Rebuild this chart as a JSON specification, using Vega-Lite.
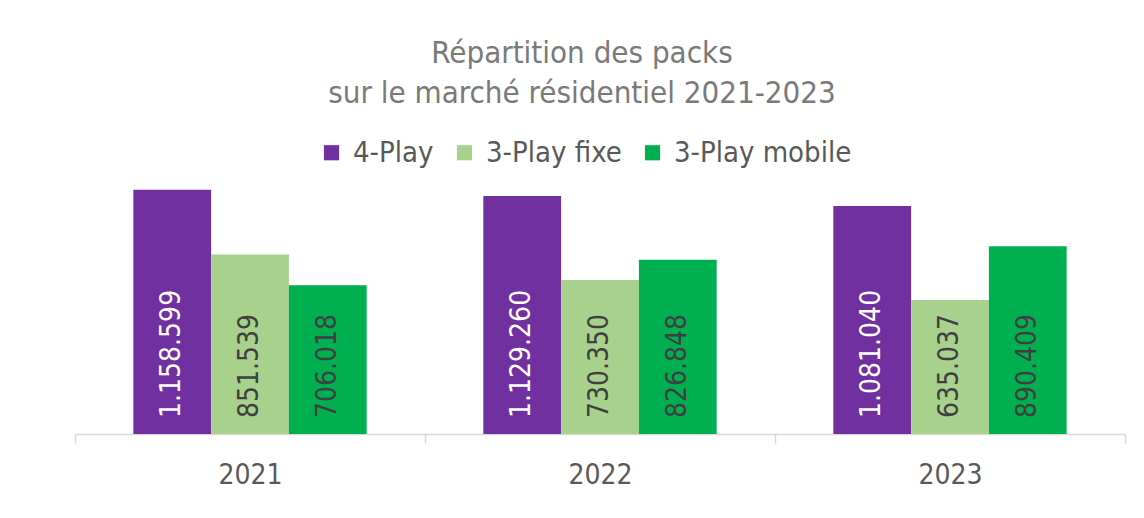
{
  "$schema": "https://vega.github.io/schema/vega-lite/v6.json",
  "autosize": "none",
  "width": 1050,
  "height": 253,
  "padding": {"left": 75, "top": 181, "right": 19, "bottom": 84},
  "background": "white",
  "config": {
    "locale": {"number": {"decimal": ",", "thousands": ".", "grouping": [3], "currency": ["", " €"]}},
    "view": {"stroke": null},
    "font": "DejaVu Sans Condensed"
  },
  "title": {
    "text": ["Répartition des packs", "sur le marché résidentiel 2021-2023"],
    "anchor": "middle",
    "dx": -18,
    "fontSize": 31,
    "font": "DejaVu Sans Condensed",
    "fontWeight": "normal",
    "color": "#7A7A7A",
    "lineHeight": 40,
    "offset": 28
  },
  "data": {
    "values": [
      {"year": "2021", "pack": "4-Play", "value": 1158599},
      {"year": "2021", "pack": "3-Play fixe", "value": 851539},
      {"year": "2021", "pack": "3-Play mobile", "value": 706018},
      {"year": "2022", "pack": "4-Play", "value": 1129260},
      {"year": "2022", "pack": "3-Play fixe", "value": 730350},
      {"year": "2022", "pack": "3-Play mobile", "value": 826848},
      {"year": "2023", "pack": "4-Play", "value": 1081040},
      {"year": "2023", "pack": "3-Play fixe", "value": 635037},
      {"year": "2023", "pack": "3-Play mobile", "value": 890409}
    ]
  },
  "encoding": {
    "x": {
      "field": "year",
      "type": "nominal",
      "scale": {"paddingInner": 0, "paddingOuter": 0},
      "axis": {
        "title": null,
        "labelAngle": 0,
        "labelFontSize": 28,
        "labelColor": "#595959",
        "labelPadding": 18,
        "domainColor": "#D9D9D9",
        "domainWidth": 1.5,
        "tickColor": "#D9D9D9",
        "tickWidth": 1.5,
        "tickSize": 9,
        "tickBand": "extent",
        "grid": false
      }
    },
    "xOffset": {
      "field": "pack",
      "type": "nominal",
      "sort": ["4-Play", "3-Play fixe", "3-Play mobile"],
      "scale": {"paddingInner": 0, "paddingOuter": 0.75}
    },
    "y": {
      "field": "value",
      "type": "quantitative",
      "scale": {"domain": [0, 1200000]},
      "axis": null
    }
  },
  "layer": [
    {
      "mark": {"type": "bar"},
      "encoding": {
        "color": {
          "field": "pack",
          "type": "nominal",
          "sort": ["4-Play", "3-Play fixe", "3-Play mobile"],
          "scale": {"domain": ["4-Play", "3-Play fixe", "3-Play mobile"], "range": ["#7030A0", "#A9D18E", "#00B050"]},
          "legend": {
            "title": null,
            "orient": "none",
            "direction": "horizontal",
            "legendX": 242,
            "legendY": -43,
            "padding": 0,
            "symbolType": "square",
            "symbolSize": 230,
            "symbolStrokeWidth": 0,
            "symbolOpacity": 1,
            "labelFontSize": 29,
            "labelColor": "#595959",
            "labelOffset": 7,
            "columnPadding": 16,
            "labelLimit": 400
          }
        }
      }
    },
    {
      "mark": {"type": "text", "angle": 270, "align": "left", "baseline": "middle", "fontSize": 28, "dx": 16},
      "encoding": {
        "y": {"datum": 0},
        "text": {"field": "value", "type": "quantitative", "format": ",d"},
        "color": {
          "condition": {"test": "datum.pack === '4-Play'", "value": "#FFFFFF"},
          "value": "#404040"
        }
      }
    }
  ]
}
